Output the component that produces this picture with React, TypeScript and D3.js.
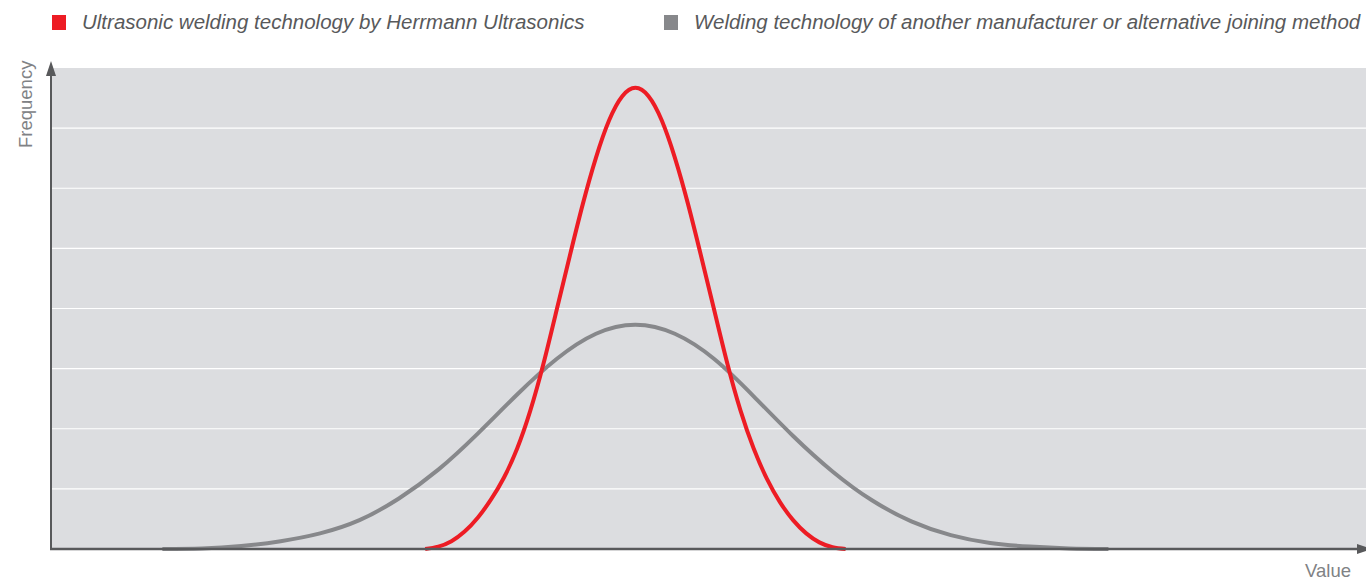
import React, { useEffect, useRef } from "react";
import * as d3 from "d3";

// values (x in value units 0..100, y in grid bands 0..8)
const redX = [28.4, 29.4, 30.4, 31.4, 32.4, 33.4, 34.4, 35.4, 36.4, 37.4, 38.4, 39.4, 40.4, 41.4, 42.4, 43.4, 44.4, 45.4, 46.4, 47.4, 48.4, 49.4, 50.4, 51.4, 52.4, 53.4, 54.4, 55.4, 56.4, 57.4, 58.4, 59.4, 60.4];
const redY = [0.0, 0.04, 0.13, 0.29, 0.52, 0.82, 1.19, 1.67, 2.3, 3.08, 3.97, 4.87, 5.74, 6.51, 7.13, 7.53, 7.67, 7.53, 7.13, 6.51, 5.74, 4.87, 3.97, 3.08, 2.3, 1.67, 1.17, 0.78, 0.48, 0.26, 0.11, 0.03, 0.0];

const grayX = [8.4, 11.4, 14.4, 17.4, 20.4, 23.4, 26.4, 29.4, 32.4, 35.4, 38.4, 41.4, 44.4, 47.4, 50.4, 53.4, 56.4, 59.4, 62.4, 65.4, 68.4, 71.4, 74.4, 77.4, 80.4];
const grayY = [0.0, 0.01, 0.05, 0.13, 0.26, 0.48, 0.84, 1.32, 1.92, 2.57, 3.16, 3.58, 3.73, 3.58, 3.16, 2.54, 1.88, 1.29, 0.81, 0.46, 0.23, 0.1, 0.04, 0.01, 0.0];

const gridValues = [1, 2, 3, 4, 5, 6, 7];
const legendLabels = [
  "Ultrasonic welding technology by Herrmann Ultrasonics",
  "Welding technology of another manufacturer or alternative joining method",
];
const legendColors = ["#ed1c24", "#87888b"];

const App = () => {
  const ref = useRef<SVGSVGElement>(null);

  useEffect(() => {
    const svg = d3.select(ref.current);
    svg.selectAll("*").remove();

    const left = 52;
    const right = 1366;
    const top = 68;
    const bottom = 549;

    const x = d3.scaleLinear().domain([0, 100]).range([left, right]);
    const y = d3.scaleLinear().domain([0, 8]).range([bottom, top]);

    // plot background
    svg
      .append("rect")
      .attr("x", left)
      .attr("y", top)
      .attr("width", right - left)
      .attr("height", bottom - top)
      .attr("fill", "#dcdde0");

    // white grid lines
    svg
      .append("g")
      .selectAll("line")
      .data(gridValues)
      .join("line")
      .attr("x1", left)
      .attr("x2", right)
      .attr("y1", (d) => y(d))
      .attr("y2", (d) => y(d))
      .attr("stroke", "#ffffff")
      .attr("stroke-width", 1.2);

    const line = d3
      .line<[number, number]>()
      .x((d) => x(d[0]))
      .y((d) => y(d[1]))
      .curve(d3.curveNatural);

    const grayData = grayX.map((v, i) => [v, grayY[i]] as [number, number]);
    const redData = redX.map((v, i) => [v, redY[i]] as [number, number]);

    svg
      .append("path")
      .attr("d", line(grayData))
      .attr("fill", "none")
      .attr("stroke", legendColors[1])
      .attr("stroke-width", 4);

    svg
      .append("path")
      .attr("d", line(redData))
      .attr("fill", "none")
      .attr("stroke", legendColors[0])
      .attr("stroke-width", 4);

    // axes with arrows
    const axisColor = "#58595b";
    svg
      .append("line")
      .attr("x1", left - 1)
      .attr("x2", left - 1)
      .attr("y1", bottom + 1)
      .attr("y2", 72)
      .attr("stroke", axisColor)
      .attr("stroke-width", 2);
    svg
      .append("path")
      .attr("d", `M${left - 1},61 L${left - 6},76 L${left + 4},76 Z`)
      .attr("fill", axisColor);

    svg
      .append("line")
      .attr("x1", left - 2)
      .attr("x2", 1358)
      .attr("y1", bottom)
      .attr("y2", bottom)
      .attr("stroke", axisColor)
      .attr("stroke-width", 2.5);
    svg
      .append("path")
      .attr("d", `M1372,${bottom} L1357,${bottom - 5} L1357,${bottom + 5} Z`)
      .attr("fill", axisColor);

    // axis titles
    svg
      .append("text")
      .attr("transform", "translate(32,148) rotate(-90)")
      .attr("font-family", "Liberation Sans, Arial, sans-serif")
      .attr("font-size", 18.5)
      .attr("fill", "#808285")
      .text("Frequency");

    svg
      .append("text")
      .attr("x", 1351)
      .attr("y", 577)
      .attr("text-anchor", "end")
      .attr("font-family", "Liberation Sans, Arial, sans-serif")
      .attr("font-size", 18.5)
      .attr("fill", "#808285")
      .text("Value");

    // legend
    const legendX = [52, 664];
    const legend = svg
      .append("g")
      .selectAll("g")
      .data(legendLabels)
      .join("g")
      .attr("transform", (_, i) => `translate(${legendX[i]},0)`);
    legend
      .append("rect")
      .attr("x", 0)
      .attr("y", 15)
      .attr("width", 14)
      .attr("height", 15)
      .attr("fill", (_, i) => legendColors[i]);
    legend
      .append("text")
      .attr("x", 30)
      .attr("y", 29)
      .attr("font-family", "Liberation Sans, Arial, sans-serif")
      .attr("font-style", "italic")
      .attr("font-size", 20.5)
      .attr("fill", "#58595b")
      .text((d) => d);
  }, []);

  return (
    <svg
      ref={ref}
      width={1366}
      height={581}
      style={{ position: "absolute", left: 0, top: 0, background: "#ffffff" }}
    />
  );
};

export default App;
